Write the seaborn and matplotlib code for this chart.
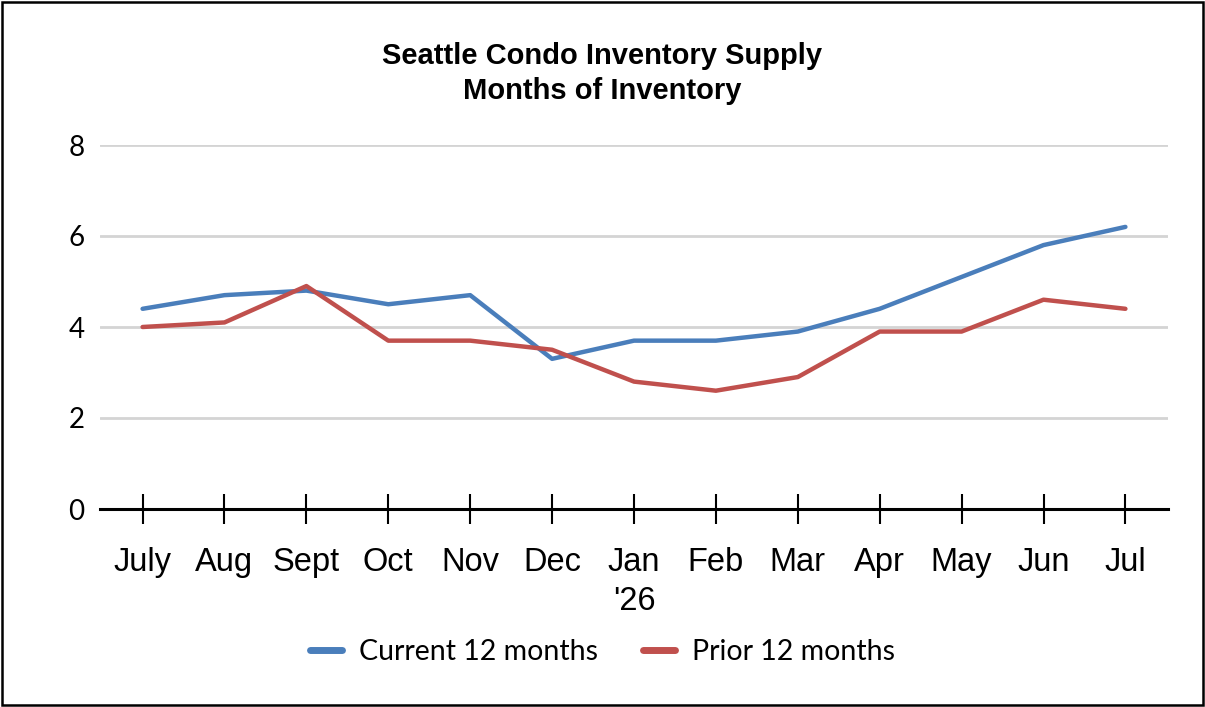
import numpy as np
import pandas as pd
import matplotlib
matplotlib.use('Agg')
import matplotlib.pyplot as plt
import seaborn as sns

# datos
months = ['July', 'Aug', 'Sept', 'Oct', 'Nov', 'Dec', "Jan\n'26",
          'Feb', 'Mar', 'Apr', 'May', 'Jun', 'Jul']
current_12 = [4.4, 4.7, 4.8, 4.5, 4.7, 3.3, 3.7, 3.7, 3.9, 4.4, 5.1, 5.8, 6.2]
prior_12 = [4.0, 4.1, 4.9, 3.7, 3.7, 3.5, 2.8, 2.6, 2.9, 3.9, 3.9, 4.6, 4.4]
series_names = ['Current 12 months', 'Prior 12 months']
series_colors = ['#4A7EBB', '#C0504D']
y_ticks = [0, 2, 4, 6, 8]

df = pd.DataFrame({
    'month': months * 2,
    'value': current_12 + prior_12,
    'serie': [series_names[0]] * len(months) + [series_names[1]] * len(months),
})

sns.set_style('white')
plt.rcParams['font.family'] = ['Liberation Sans', 'DejaVu Sans']
plt.rcParams['text.color'] = 'black'
plt.rcParams['xtick.color'] = 'black'
plt.rcParams['ytick.color'] = 'black'

fig = plt.figure(figsize=(12.05, 7.07), dpi=100)
ax = fig.add_axes([100 / 1205, 1 - 509 / 707, 1068 / 1205, 364 / 707])

sns.lineplot(data=df, x='month', y='value', hue='serie', palette=series_colors,
             linewidth=3.2, sort=False, ax=ax, legend=False)

ax.set_xlim(-0.52, len(months) - 0.48)
ax.set_ylim(0, 8)
ax.set_yticks(y_ticks)
ax.set_yticklabels([str(t) for t in y_ticks], family=['Lato', 'DejaVu Sans'], fontsize=20)

# primera linea como etiqueta del tick, la segunda ('26) va debajo aparte
first_lines = [m.split('\n')[0] for m in months]
ax.set_xticks(range(len(months)))
ax.set_xticklabels(first_lines, fontsize=23.5)
for lbl in ax.get_xticklabels():
    lbl.set_verticalalignment('baseline')
for i, m in enumerate(months):
    if '\n' in m:
        ax.annotate(m.split('\n')[1], xy=(i, 0), xycoords=('data', 'axes fraction'),
                    xytext=(0, -72.5), textcoords='offset points',
                    ha='center', va='baseline', fontsize=23.5)
ax.set_xlabel('')
ax.set_ylabel('')

for s in ['top', 'right', 'left']:
    ax.spines[s].set_visible(False)
ax.spines['bottom'].set_color('black')
ax.spines['bottom'].set_linewidth(2.2)
ax.spines['bottom'].set_zorder(1)

ax.yaxis.grid(True, color='#D4D4D4', linewidth=2.0)
ax.set_axisbelow(True)
ax.tick_params(axis='y', left=False, length=0, pad=11)
ax.tick_params(axis='x', bottom=True, direction='inout', length=21.6, width=1.5,
               color='black', pad=33.5)

fig.suptitle('Seattle Condo Inventory Supply\nMonths of Inventory',
             x=602 / 1205, y=1 - 42 / 707, fontsize=21, fontweight='bold', linespacing=1.3)

handles = [plt.Line2D([], [], color=c, linewidth=5) for c in series_colors]
leg = fig.legend(handles, series_names, loc='center', bbox_to_anchor=(0.5, 1 - 652 / 707),
                 ncol=2, frameon=False, handlelength=1.1, handletextpad=0.6, columnspacing=1.6,
                 prop={'family': ['Lato', 'DejaVu Sans'], 'size': 20.5})

fig.add_artist(plt.Rectangle((0.002, 0.003), 0.996, 0.994, transform=fig.transFigure,
                             fill=False, edgecolor='black', linewidth=1.8))

fig.savefig('out.png', dpi=100)
